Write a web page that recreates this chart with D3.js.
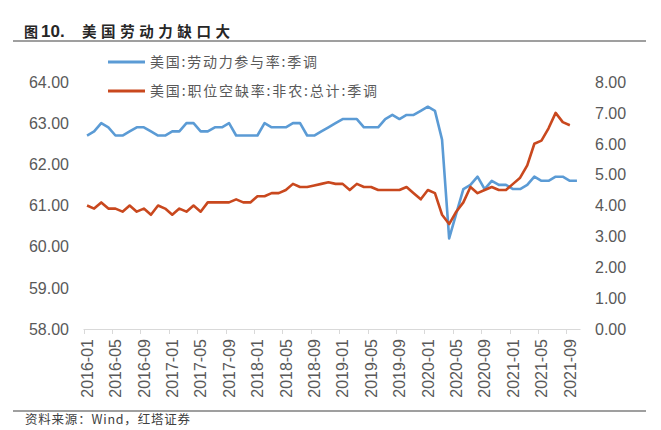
<!DOCTYPE html>
<html>
<head>
<meta charset="utf-8">
<script src="https://cdn.jsdelivr.net/npm/d3@7"></script>
<style>
  html, body { margin: 0; padding: 0; background: #ffffff; }
  svg { display: block; }
</style>
</head>
<body>
<script>
// ---------- data ----------
const titleText = "美国劳动力缺口大";
const sourceText = "资料来源：Wind，红塔证券";
const seriesNames = ["美国:劳动力参与率:季调", "美国:职位空缺率:非农:总计:季调"];

// months 2016-01 .. 2021-10
const months = [];
for (let y = 2016; y <= 2021; y++) {
  for (let m = 1; m <= 12; m++) {
    if (y === 2021 && m > 10) break;
    months.push(y + "-" + String(m).padStart(2, "0"));
  }
}

// labor force participation rate (left axis)
const lfpr = [
  62.7, 62.8, 63.0, 62.9, 62.7, 62.7, 62.8, 62.9, 62.9, 62.8, 62.7, 62.7,
  62.8, 62.8, 63.0, 63.0, 62.8, 62.8, 62.9, 62.9, 63.0, 62.7, 62.7, 62.7,
  62.7, 63.0, 62.9, 62.9, 62.9, 63.0, 63.0, 62.7, 62.7, 62.8, 62.9, 63.0,
  63.1, 63.1, 63.1, 62.9, 62.9, 62.9, 63.1, 63.2, 63.1, 63.2, 63.2, 63.3,
  63.4, 63.3, 62.6, 60.2, 60.8, 61.4, 61.5, 61.7, 61.4, 61.6, 61.5, 61.5,
  61.4, 61.4, 61.5, 61.7, 61.6, 61.6, 61.7, 61.7, 61.6, 61.6
];

// job openings rate (right axis), ends 2021-09
const openings = [
  4.0, 3.9, 4.1, 3.9, 3.9, 3.8, 4.0, 3.8, 3.9, 3.7, 4.0, 3.9,
  3.7, 3.9, 3.8, 4.0, 3.8, 4.1, 4.1, 4.1, 4.1, 4.2, 4.1, 4.1,
  4.3, 4.3, 4.4, 4.4, 4.5, 4.7, 4.6, 4.6, 4.65, 4.7, 4.75, 4.7,
  4.7, 4.5, 4.7, 4.6, 4.6, 4.5, 4.5, 4.5, 4.5, 4.6, 4.4, 4.2,
  4.5, 4.4, 3.7, 3.4, 3.8, 4.1, 4.6, 4.4, 4.5, 4.6, 4.5, 4.5,
  4.7, 4.9, 5.3, 6.0, 6.1, 6.5, 7.0, 6.7, 6.6
];

const leftTicks = [58, 59, 60, 61, 62, 63, 64];
const rightTicks = [0, 1, 2, 3, 4, 5, 6, 7, 8];
const xTickLabels = ["2016-01","2016-05","2016-09","2017-01","2017-05","2017-09",
  "2018-01","2018-05","2018-09","2019-01","2019-05","2019-09",
  "2020-01","2020-05","2020-09","2021-01","2021-05","2021-09"];

// ---------- chart ----------
const W = 661, H = 430;
const BLUE = "#5B9BD5", RED = "#C9481E", GREY = "#595959";
const svg = d3.select("body").append("svg").attr("width", W).attr("height", H)
  .style("font-family", "'Liberation Sans', Arial, sans-serif");

const plotTop = 82, plotBottom = 329;
const x = d3.scaleBand().domain(months).range([83.5, 580.5]).padding(0);
const yL = d3.scaleLinear().domain([58, 64]).range([plotBottom, plotTop]);
const yR = d3.scaleLinear().domain([0, 8]).range([plotBottom, plotTop]);
const cx = m => x(m) + x.bandwidth() / 2;

// title
const cjk = "'Noto Sans CJK SC', sans-serif";
svg.append("text").attr("x", 24).attr("y", 36.5).text("图")
  .style("font-family", cjk).style("font-weight", "bold").style("font-size", "14px").attr("fill", "#262626");
svg.append("text").attr("x", 41).attr("y", 36.5).text("10.")
  .style("font-weight", "bold").style("font-size", "17px").attr("fill", "#262626");
svg.append("text").attr("x", 82).attr("y", 37).text(titleText)
  .attr("textLength", 148).attr("lengthAdjust", "spacing")
  .style("font-family", cjk).style("font-weight", "bold").style("font-size", "14.5px").attr("fill", "#262626");
svg.append("line").attr("x1", 13).attr("x2", 646).attr("y1", 41).attr("y2", 41)
  .attr("stroke", "#7f7f7f").attr("stroke-width", 1.5);

// legend
const legY = [62, 91];
const legLens = [167, 227];
[BLUE, RED].forEach((c, i) => {
  svg.append("line").attr("x1", 108).attr("x2", 145).attr("y1", legY[i]).attr("y2", legY[i])
    .attr("stroke", c).attr("stroke-width", 3);
  svg.append("text").attr("x", 150).attr("y", legY[i] + 5).text(seriesNames[i])
    .attr("textLength", legLens[i]).attr("lengthAdjust", "spacing")
    .style("font-family", cjk).style("font-size", "14px").attr("fill", GREY);
});

// left axis labels
svg.append("g").selectAll("text").data(leftTicks).join("text")
  .attr("x", 69).attr("y", d => yL(d)).attr("dy", "0.36em")
  .attr("text-anchor", "end").style("font-size", "16px").attr("fill", GREY)
  .text(d => d3.format(".2f")(d));

// right axis labels
svg.append("g").selectAll("text").data(rightTicks).join("text")
  .attr("x", 595).attr("y", d => yR(d)).attr("dy", "0.36em")
  .attr("text-anchor", "start").style("font-size", "16px").attr("fill", GREY)
  .text(d => d3.format(".2f")(d));

// x axis
const xa = svg.append("g");
xa.append("line").attr("x1", x.range()[0]).attr("x2", x.range()[1])
  .attr("y1", plotBottom + 0.5).attr("y2", plotBottom + 0.5).attr("stroke", "#d9d9d9").attr("stroke-width", 1);
xa.selectAll("line.tick").data(xTickLabels).join("line").attr("class", "tick")
  .attr("x1", d => Math.round(x(d)) + 0.5).attr("x2", d => Math.round(x(d)) + 0.5)
  .attr("y1", plotBottom).attr("y2", plotBottom + 5).attr("stroke", "#d9d9d9");
xa.selectAll("text").data(xTickLabels).join("text")
  .attr("transform", d => `translate(${cx(d)},${plotBottom + 10}) rotate(-90)`)
  .attr("dy", "0.36em").attr("text-anchor", "end")
  .style("font-size", "16px").attr("fill", GREY).text(d => d);

// lines
const lineL = d3.line().x((d, i) => cx(months[i])).y(d => yL(d));
const lineR = d3.line().x((d, i) => cx(months[i])).y(d => yR(d));
svg.append("path").datum(lfpr).attr("d", lineL).attr("fill", "none")
  .attr("stroke", BLUE).attr("stroke-width", 2.6).attr("stroke-linejoin", "round");
svg.append("path").datum(openings).attr("d", lineR).attr("fill", "none")
  .attr("stroke", RED).attr("stroke-width", 2.6).attr("stroke-linejoin", "round");

// footer
svg.append("line").attr("x1", 13).attr("x2", 646).attr("y1", 411).attr("y2", 411)
  .attr("stroke", "#7f7f7f").attr("stroke-width", 1.5);
svg.append("text").attr("x", 25).attr("y", 424).text(sourceText)
  .attr("textLength", 165).attr("lengthAdjust", "spacing")
  .style("font-family", cjk).style("font-size", "12.5px").attr("fill", "#404040");
</script>
</body>
</html>
